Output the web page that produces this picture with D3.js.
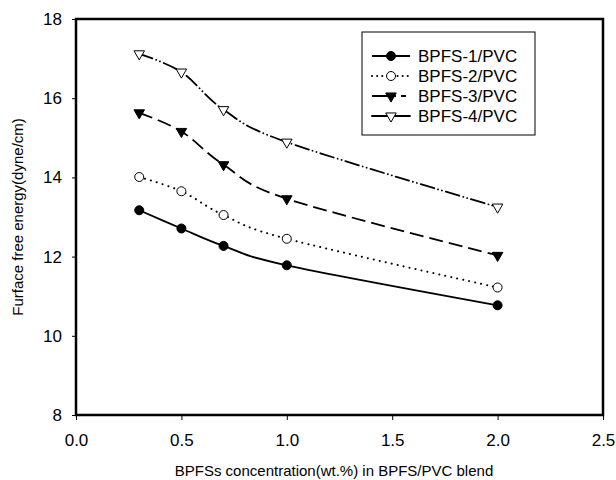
<!DOCTYPE html>
<html>
<head>
<meta charset="utf-8">
<script src="https://cdn.jsdelivr.net/npm/d3@7"></script>
<style>
    body { margin: 0; background: #fff; }
    text { font-family: "Liberation Sans", Arial, sans-serif; fill: #000; }
</style>
</head>
<body>
<svg id="chart" width="616" height="480"></svg>
<script>
// data
const concentrations = [0.3, 0.5, 0.7, 1.0, 2.0];
const seriesNames = ['BPFS-1/PVC', 'BPFS-2/PVC', 'BPFS-3/PVC', 'BPFS-4/PVC'];
const bpfs1 = [13.17, 12.71, 12.27, 11.78, 10.77];
const bpfs2 = [14.01, 13.65, 13.05, 12.45, 11.22];
const bpfs3 = [15.63, 15.16, 14.32, 13.46, 12.03];
const bpfs4 = [17.12, 16.66, 15.71, 14.89, 13.25];
const xTicks = [0, 0.5, 1.0, 1.5, 2.0, 2.5];
const yTicks = [8, 10, 12, 14, 16, 18];

const allSeries = [bpfs1, bpfs2, bpfs3, bpfs4];

// line / marker styles per series
const styles = [
    { dash: null, marker: 'circle', fill: '#000' },
    { dash: '0.1,6', marker: 'circle', fill: '#fff', cap: 'round', width: 2 },
    { dash: '14,6', marker: 'triangle', fill: '#000' },
    { dash: '14,4,0.1,4,0.1,4', marker: 'triangle', fill: '#fff', cap: 'round' }
];

const svg = d3.select('#chart');
const margin = { left: 76, right: 13, top: 19, bottom: 65 };
const width = 616 - margin.left - margin.right;
const height = 480 - margin.top - margin.bottom;

const x = d3.scaleLinear().domain([0, 2.5]).range([0, width]);
const y = d3.scaleLinear().domain([8, 18]).range([height, 0]);

const g = svg.append('g').attr('transform', `translate(${margin.left},${margin.top})`);

// axes
const xAxis = g.append('g')
    .attr('transform', `translate(0,${height})`)
    .call(d3.axisBottom(x).tickValues(xTicks).tickFormat(d3.format('.1f')).tickSizeInner(5).tickSizeOuter(0).tickPadding(14));
const yAxis = g.append('g')
    .call(d3.axisLeft(y).tickValues(yTicks).tickFormat(d3.format('d')).tickSizeInner(4).tickSizeOuter(0).tickPadding(10));

[xAxis, yAxis].forEach(a => {
    a.select('.domain').remove();
    a.selectAll('line').attr('stroke', '#000').attr('stroke-width', 1);
    a.selectAll('text').style('font-size', '17px').style('font-family', '"Liberation Sans", Arial, sans-serif');
});

// frame
g.append('rect')
    .attr('x', 0).attr('y', 0)
    .attr('width', width).attr('height', height)
    .attr('fill', 'none')
    .attr('stroke', '#000')
    .attr('stroke-width', 2.5);

// axis titles
svg.append('text')
    .attr('x', 334)
    .attr('y', 476)
    .attr('text-anchor', 'middle')
    .style('font-size', '15px')
    .text('BPFSs concentration(wt.%) in BPFS/PVC blend');

svg.append('text')
    .attr('transform', `translate(23,${margin.top + height / 2}) rotate(-90)`)
    .attr('text-anchor', 'middle')
    .style('font-size', '15px')
    .text('Furface free energy(dyne/cm)');

const line = d3.line()
    .x((d, i) => x(concentrations[i]))
    .y(d => y(d))
    .curve(d3.curveCardinal.tension(0));

const triangle = d3.symbol().type(d3.symbolTriangle).size(48);

function drawMarker(sel, st) {
    if (st.marker === 'circle') {
        sel.append('circle')
            .attr('r', 4.5)
            .attr('fill', st.fill)
            .attr('stroke', '#000')
            .attr('stroke-width', 1);
    } else {
        sel.append('path')
            .attr('d', triangle)
            .attr('transform', 'rotate(180)')
            .attr('fill', st.fill)
            .attr('stroke', '#000')
            .attr('stroke-width', 1);
    }
}

allSeries.forEach((s, k) => {
    const st = styles[k];
    g.append('path')
        .attr('d', line(s))
        .attr('fill', 'none')
        .attr('stroke', '#000')
        .attr('stroke-width', st.width || 1.8)
        .attr('stroke-linecap', st.cap || 'butt')
        .attr('stroke-dasharray', st.dash);

    g.selectAll(null)
        .data(s)
        .enter()
        .append('g')
        .attr('transform', (d, i) => `translate(${x(concentrations[i])},${y(d)})`)
        .each(function () { drawMarker(d3.select(this), st); });
});

// legend
const legend = svg.append('g').attr('transform', 'translate(362,32)');
legend.append('rect')
    .attr('width', 173).attr('height', 103)
    .attr('fill', '#fff')
    .attr('stroke', '#000')
    .attr('stroke-width', 1);

seriesNames.forEach((name, k) => {
    const st = styles[k];
    const row = legend.append('g').attr('transform', `translate(0,${24 + k * 20})`);
    row.append('line')
        .attr('x1', 10).attr('x2', 48)
        .attr('stroke', '#000')
        .attr('stroke-width', st.width || 1.8)
        .attr('stroke-linecap', st.cap || 'butt')
        .attr('stroke-dasharray', k === 2 ? '24,5,5,5' : (k === 1 ? '0.1,5' : null));
    const m = row.append('g').attr('transform', 'translate(29,0)');
    drawMarker(m, st);
    row.append('text')
        .attr('x', 56)
        .attr('y', 6)
        .style('font-size', '17px')
        .text(name);
});
</script>
</body>
</html>
